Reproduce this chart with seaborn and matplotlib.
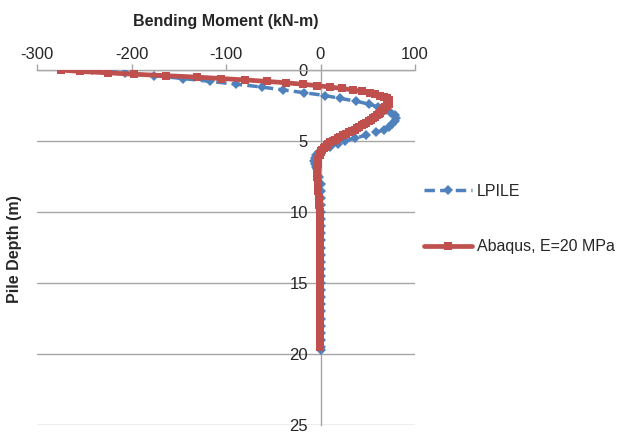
import matplotlib
matplotlib.use("Agg")
import matplotlib.pyplot as plt
import seaborn as sns
import pandas as pd

# ---- data ----
lpile_depth = [0.0, 0.2, 0.4, 0.6, 0.8, 1.0, 1.2, 1.4, 1.6, 1.8, 2.0, 2.2, 2.4, 2.6,
               2.8, 3.0, 3.2, 3.4, 3.6, 3.8, 4.0, 4.2, 4.4, 4.6, 4.8, 5.0, 5.2, 5.4,
               5.6, 5.8, 6.0, 6.2, 6.4, 6.6, 6.8, 7.0, 7.5, 8.0, 8.5, 9.0, 9.5, 10.0,
               10.5, 11.0, 11.5, 12.0, 12.5, 13.0, 13.5, 14.0, 14.5, 15.0, 15.5, 16.0,
               16.5, 17.0, 17.5, 18.0, 18.5, 19.0, 19.5, 19.7]
lpile_moment = [-242, -207, -176, -146, -117, -89, -62, -40, -17, 5, 21, 38, 51, 61,
                69, 75, 79, 80, 79, 76, 72, 67, 59, 48, 36, 26, 18, 10,
                3, -2, -5, -6, -6.5, -6, -5, -4, -2, 0, 0.5, 1, 1, 1,
                1, 1, 1, 1, 1, 1, 1, 1, 1, 1, 1, 1,
                1, 1, 1, 1, 1, 1, 0.5, 0]

abaqus_depth = [0.0, 0.1, 0.2, 0.3, 0.4, 0.5, 0.6, 0.7, 0.8, 0.9, 1.0, 1.1, 1.2, 1.3,
                1.4, 1.5, 1.6, 1.7, 1.8, 1.9, 2.0, 2.1, 2.2, 2.3, 2.4, 2.5, 2.6, 2.7,
                2.8, 2.9, 3.0, 3.1, 3.2, 3.3, 3.4, 3.5, 3.6, 3.7, 3.8, 3.9, 4.0, 4.1,
                4.2, 4.3, 4.4, 4.5, 4.6, 4.7, 4.8, 4.9, 5.0, 5.1, 5.2, 5.3, 5.4, 5.5,
                5.6, 5.7, 5.8, 5.9, 6.0, 6.3, 6.6, 7.0, 7.5, 8.0, 8.5, 9.0, 9.5, 10.0,
                10.5, 11.0, 11.5, 12.0, 12.5, 13.0, 13.5, 14.0, 14.5, 15.0, 15.5, 16.0,
                16.5, 17.0, 17.5, 18.0, 18.5, 19.0, 19.5]
abaqus_moment = [-275, -255, -225, -197, -163, -131, -105, -80, -57, -37, -19, -4, 10, 23,
                 34, 44, 52, 58, 63, 67, 70, 72, 73, 73, 72, 70, 68, 67,
                 66, 64.5, 63, 61.5, 60, 58, 56, 53.5, 51, 48.5, 46, 43.5, 41, 38.5,
                 36, 33, 30, 27, 24, 21, 18, 15.5, 13, 10.5, 8, 6.5, 5, 3.5,
                 2, 1, 0, -0.5, -1, -2.5, -3, -3.5, -3.5, -3, -2.5, -2, -1.5, -1,
                 -1, -1, -1, -1, -1, -1, -1, -1, -1, -1, -1, -1,
                 -1, -1, -1, -1, -1, -1, -1]

series_labels = ["LPILE", "Abaqus, E=20 MPa"]
x_ticks = [-300, -200, -100, 0, 100]
y_ticks = [0, 5, 10, 15, 20, 25]

df_l = pd.DataFrame({"moment": lpile_moment, "depth": lpile_depth})
df_a = pd.DataFrame({"moment": abaqus_moment, "depth": abaqus_depth})

sns.set_theme(style="white")
plt.rcParams["font.family"] = ["Liberation Sans", "DejaVu Sans"]
plt.rcParams["axes.unicode_minus"] = False

W, H = 628, 433
y_top, y_bot = 70, 425
x_left, x_right = 37, 415

fig = plt.figure(figsize=(W / 100, H / 100), dpi=100)
ax = fig.add_axes([x_left / W, 1 - y_bot / H, (x_right - x_left) / W, (y_bot - y_top) / H])

blue = "#4F81BD"
red = "#C0504D"
grid_c = "#A6A6A6"

sns.lineplot(data=df_l, x="moment", y="depth", sort=False, estimator=None, ax=ax,
             color=blue, linewidth=2.5, linestyle=(0, (3.0, 1.5)), marker="D",
             markersize=5.0, markeredgewidth=0, label=series_labels[0], zorder=3)
sns.lineplot(data=df_a, x="moment", y="depth", sort=False, estimator=None, ax=ax,
             color=red, linewidth=3.4, marker="s", markersize=6.4,
             markeredgewidth=0, label=series_labels[1], zorder=4)

ax.set_xlim(-300, 100)
ax.set_ylim(25, 0)
ax.set_xticks(x_ticks)
ax.set_yticks(y_ticks)
ax.xaxis.tick_top()
ax.xaxis.set_label_position("top")

for s in ["right", "bottom"]:
    ax.spines[s].set_visible(False)
ax.spines["left"].set_position(("data", 0))
for s in ["left", "top"]:
    ax.spines[s].set_color(grid_c)
    ax.spines[s].set_linewidth(1.0)
    ax.spines[s].set_zorder(1)

ax.yaxis.grid(True, color=grid_c, linewidth=1.0, zorder=0)
ax.xaxis.grid(False)
ax.set_axisbelow(True)

ax.tick_params(axis="x", which="both", direction="out", length=4, width=1,
               color=grid_c, labelsize=12, pad=2, top=True, bottom=False)
ax.tick_params(axis="y", which="both", direction="out", length=0, width=1,
               color=grid_c, labelsize=12, pad=9)

ax.set_xlabel("Bending Moment (kN-m)", fontsize=11.5, fontweight="bold", labelpad=15)
ax.set_ylabel("")
fig.text(15 / W, 1 - 249 / H, "Pile Depth (m)", rotation=90, fontsize=11.5,
         fontweight="bold", ha="center", va="center")

handles, labels = ax.get_legend_handles_labels()
ax.get_legend().remove()
fig.legend(handles, labels, loc="center left", bbox_to_anchor=(418 / W, 1 - 219 / H),
           frameon=False, fontsize=11.5, handlelength=3.0, handletextpad=0.3,
           labelspacing=2.55, borderaxespad=0)

fig.savefig("out.png", dpi=100)
